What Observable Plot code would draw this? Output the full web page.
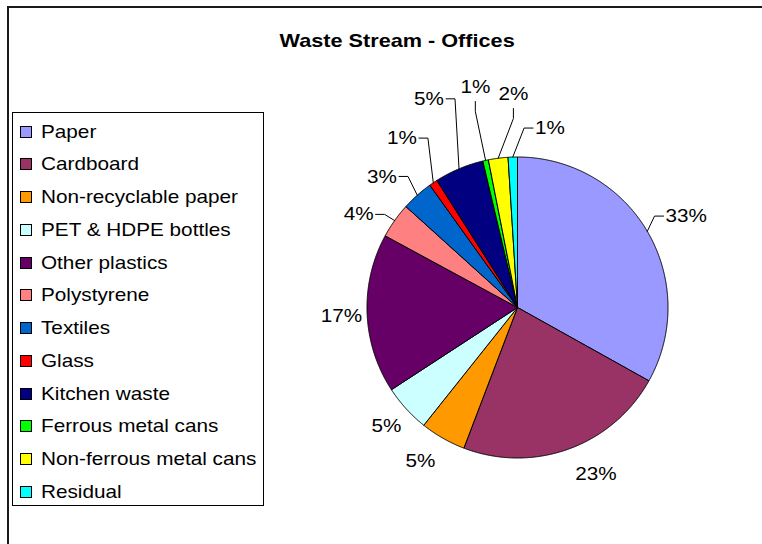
<!DOCTYPE html>
<html>
<head>
<meta charset="utf-8">
<script src="https://cdn.jsdelivr.net/npm/d3@7"></script>
<script src="https://cdn.jsdelivr.net/npm/@observablehq/plot@0.6"></script>
<style>
  html, body { margin: 0; padding: 0; background: #fff; }
  #chart { position: relative; width: 762px; height: 544px; overflow: hidden; font-family: "Liberation Sans", Arial, sans-serif; color: #000; }
  #frame { position: absolute; left: 7px; top: 6px; right: -10px; bottom: -10px; border-left: 2px solid #1a1a1a; border-top: 2px solid #1a1a1a; }
  #title { position: absolute; left: 0; width: 794px; top: 30.5px; text-align: center; font-weight: bold; font-size: 19px; line-height: 20px; }
  #title span { display: inline-block; transform: scaleX(1.14); }
  #legend { position: absolute; left: 12px; top: 112px; width: 250px; height: 392px; border: 1px solid #000; }
  .row { position: absolute; left: 0; height: 20px; line-height: 20px; font-size: 18.5px; white-space: nowrap; }
  .sw { position: absolute; left: 7px; top: 4px; width: 10px; height: 10px; border: 1px solid #000; }
  .lab { position: absolute; left: 27.5px; top: 0; display: inline-block; transform: scaleX(1.12); transform-origin: left center; }
  #plot { position: absolute; left: 0; top: 0; }
</style>
</head>
<body>
<div id="chart">
  <div id="frame"></div>
  <div id="title"><span>Waste Stream - Offices</span></div>
  <div id="legend"></div>
  <div id="plot"></div>
</div>
<script>
// ---- data ----
const categories = ["Paper", "Cardboard", "Non-recyclable paper", "PET & HDPE bottles", "Other plastics", "Polystyrene", "Textiles", "Glass", "Kitchen waste", "Ferrous metal cans", "Non-ferrous metal cans", "Residual"];
const shares = [33.1, 22.7, 4.9, 5.1, 17.1, 3.8, 3.4, 0.9, 5.3, 0.6, 2.1, 1.0];
const colors = ["#9999FF", "#993366", "#FF9900", "#CCFFFF", "#660066", "#FF8080", "#0066CC", "#FF0000", "#000080", "#00FF00", "#FFFF00", "#00FFFF"];
const titleText = "Waste Stream - Offices";

// ---- label layout (polar: angle deg clockwise from top, radius in pie radii) ----
const labelLayout = [
  {a: 58.3, r: 1.156, anchor: "start", leader: "h"},
  {a: 154.7, r: 1.22, anchor: "middle", leader: null},
  {a: 212.3, r: 1.207, anchor: "middle", leader: null},
  {a: 227.9, r: 1.174, anchor: "middle", leader: null},
  {a: 267.4, r: 1.171, anchor: "middle", leader: null},
  {a: 302.9, r: 1.139, anchor: "end", leader: "h"},
  {a: 317.4, r: 1.183, anchor: "end", leader: "h"},
  {a: 329.3, r: 1.309, anchor: "end", leader: "h"},
  {a: 340.6, r: 1.470, anchor: "end", leader: "h"},
  {a: 349.2, r: 1.495, anchor: "middle", leader: "v"},
  {a: 358.9, r: 1.422, anchor: "middle", leader: "v"},
  {a: 5.6, r: 1.198, anchor: "start", leader: "h"}
];

const R = 150.5, CX = 517, CY = 307; // pie placement in px
const px = v => v / R; // px -> pie units
const rad = d => d * Math.PI / 180;
const polar = (deg, r) => [r * Math.sin(rad(deg)), r * Math.cos(rad(deg))];

const total = d3.sum(shares);
let acc = 0;
const slices = shares.map((v, i) => {
  const a0 = acc / total * 360; acc += v; const a1 = acc / total * 360;
  return {i, cat: categories[i], a0, a1, mid: (a0 + a1) / 2, label: Math.round(v) + "%"};
});

// slice polygons
const slicePts = [];
for (const s of slices) {
  slicePts.push({cat: s.cat, x: 0, y: 0});
  const n = Math.max(2, Math.ceil((s.a1 - s.a0) / 0.25));
  for (let k = 0; k <= n; k++) {
    const [x, y] = polar(s.a0 + (s.a1 - s.a0) * k / n, 1);
    slicePts.push({cat: s.cat, x, y});
  }
  slicePts.push({cat: s.cat, x: 0, y: 0});
}

// labels and leaders
const labels = slices.map(s => {
  const L = labelLayout[s.i];
  const [x, y] = polar(L.a, L.r);
  return {...s, x, y, anchor: L.anchor, leader: L.leader};
});
const leaderPts = [];
for (const d of labels) {
  if (!d.leader) continue;
  const [ex, ey] = polar(d.mid, 1);
  let pts;
  if (d.leader === "h") {
    const dir = d.anchor === "end" ? 1 : -1;
    pts = [[d.x + dir * px(2), d.y], [d.x + dir * px(11), d.y], [ex, ey]];
  } else {
    pts = [[d.x, d.y - px(15)], [d.x, d.y - px(25)], [ex, ey]];
  }
  pts.forEach(([x, y], k) => leaderPts.push({cat: d.cat, k, x, y}));
}

const plot = Plot.plot({
  width: 762, height: 544, margin: 0,
  style: {background: "transparent", fontFamily: "'Liberation Sans', Arial, sans-serif"},
  x: {domain: [-1, 1], range: [CX - R, CX + R], axis: null},
  y: {domain: [-1, 1], range: [CY + R, CY - R], axis: null},
  color: {domain: categories, range: colors},
  marks: [
    Plot.line(slicePts, {x: "x", y: "y", z: "cat", fill: "cat", stroke: "#000", strokeWidth: 1, strokeLinejoin: "round"}),
    Plot.line(leaderPts, {x: "x", y: "y", z: "cat", stroke: "#000", strokeWidth: 1}),
    ...["start", "middle", "end"].map(anchor =>
      Plot.text(labels.filter(d => d.anchor === anchor), {x: "x", y: "y", text: "label", textAnchor: anchor, fontSize: 19, fill: "#000"}))
  ]
});
plot.querySelectorAll("text").forEach(t => {
  const tr = t.getAttribute("transform");
  if (tr && tr.includes("translate")) t.setAttribute("transform", tr + " scale(1.09,1)");
  else {
    const x = +t.getAttribute("x") || 0, y = +t.getAttribute("y") || 0;
    t.removeAttribute("x"); t.removeAttribute("y");
    t.setAttribute("transform", `translate(${x},${y}) scale(1.09,1)`);
  }
});
document.getElementById("plot").appendChild(plot);
document.querySelector("#title span").textContent = titleText;

// legend
const legend = document.getElementById("legend");
categories.forEach((c, i) => {
  const row = document.createElement("div");
  row.className = "row";
  row.style.top = (8.5 + i * 32.77) + "px";
  const sw = document.createElement("div");
  sw.className = "sw"; sw.style.background = colors[i];
  const lab = document.createElement("span");
  lab.className = "lab"; lab.textContent = c;
  row.appendChild(sw); row.appendChild(lab);
  legend.appendChild(row);
});
</script>
</body>
</html>
